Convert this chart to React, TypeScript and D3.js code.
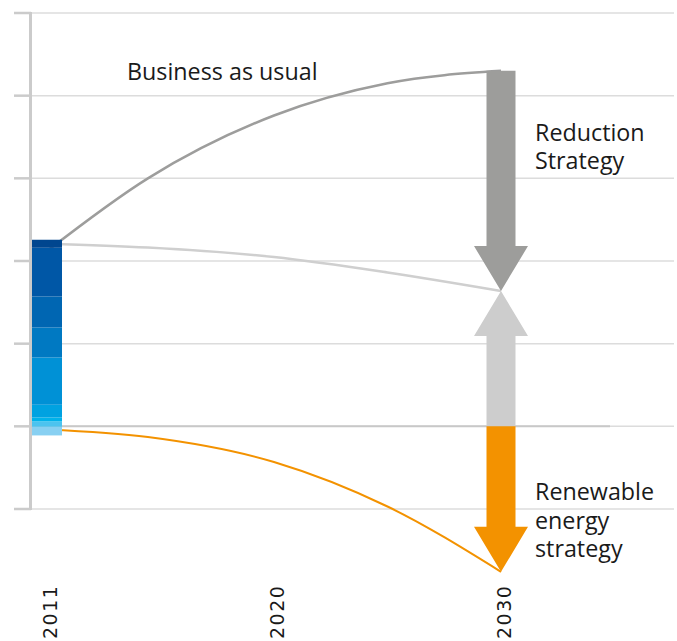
import React from 'react';
import * as d3 from 'd3';

const W = 677;
const H = 641;

// axis categories / ticks
const yearLabels = [2011, 2020, 2030];
const yTicks = [0, 1, 2, 3, 4, 5, 6];

// 2011 stacked bar (bottom to top)
const barBase = 0.89;
const barSegments = [0.105, 0.064, 0.048, 0.154, 0.572, 0.363, 0.375, 0.589, 0.097];
const barColors = ['#88d0f2', '#4cc3ef', '#00b2ea', '#00a2e1', '#0091d6', '#0079c2', '#0066b2', '#0057a6', '#00468f'];

// scenario paths
const curveYears = [2011, 2015, 2020, 2025, 2030];
const businessAsUsual = [3.12, 4.0, 4.76, 5.15, 5.3];
const reductionPath = [3.21, 3.163, 3.048, 2.861, 2.637];
const renewablePath = [0.962, 0.871, 0.569, 0.03, -0.76];
const renewableBase = 1.0;

const FONT = "'Open Sans', 'Noto Sans', sans-serif";

function arrowPath(cx: number, y0: number, y1: number) {
  const dir = y1 > y0 ? 1 : -1;
  const sw = 14.5;
  const hw = 27;
  const hl = 45;
  const yb = y1 - dir * hl;
  return `M${cx - sw},${y0} L${cx + sw},${y0} L${cx + sw},${yb} L${cx + hw},${yb} L${cx},${y1} L${cx - hw},${yb} L${cx - sw},${yb} Z`;
}

export default function App() {
  const x = d3.scaleLinear().domain([2011, 2020, 2030]).range([47, 274, 501]);
  const y = d3.scaleLinear().domain([0, 6]).range([509, 13]);

  const line = (vals: number[]) =>
    d3
      .line<number>()
      .x((_, i) => x(curveYears[i]))
      .y((v) => y(v))
      .curve(d3.curveMonotoneX)(vals) as string;

  let acc = barBase;
  const bars = barSegments.map((v, i) => {
    const y0 = acc;
    acc += v;
    return { y0, y1: acc, color: barColors[i] };
  });

  const ax = x(2030);
  const bauEnd = businessAsUsual[businessAsUsual.length - 1];
  const redEnd = reductionPath[reductionPath.length - 1];
  const renEnd = renewablePath[renewablePath.length - 1];

  return (
    <svg width={W} height={H} style={{ position: 'absolute', left: 0, top: 0, background: '#fff' }}>
      {/* gridlines */}
      {yTicks.map((t) => (
        <line key={'g' + t} x1={31} x2={674} y1={y(t)} y2={y(t)} stroke="#dcdcdc" strokeWidth={1.5} />
      ))}
      {/* axis */}
      <line x1={30.5} x2={30.5} y1={y(6) - 1} y2={y(0) + 1} stroke="#cbcbcb" strokeWidth={3} />
      {yTicks.map((t) => (
        <line key={'t' + t} x1={14} x2={31} y1={y(t)} y2={y(t)} stroke="#cbcbcb" strokeWidth={2.5} />
      ))}
      {/* base line at today's level */}
      <line x1={31} x2={610} y1={y(renewableBase)} y2={y(renewableBase)} stroke="#c8c8c8" strokeWidth={2} />

      {/* curves */}
      <path d={line(businessAsUsual)} fill="none" stroke="#9d9d9c" strokeWidth={2.5} />
      <path d={line(reductionPath)} fill="none" stroke="#cfcfcf" strokeWidth={2.5} />
      <path d={line(renewablePath)} fill="none" stroke="#f39200" strokeWidth={2} />

      {/* stacked bar */}
      {bars.map((b, i) => (
        <rect key={'b' + i} x={x(2011) - 15} width={30} y={y(b.y1)} height={y(b.y0) - y(b.y1)} fill={b.color} />
      ))}

      {/* arrows */}
      <path d={arrowPath(ax, y(bauEnd), y(redEnd))} fill="#9d9d9b" />
      <path d={arrowPath(ax, y(renewableBase), y(redEnd))} fill="#cdcdcd" />
      <path d={arrowPath(ax, y(renewableBase), y(renEnd))} fill="#f39200" />

      {/* labels */}
      <g fontFamily={FONT} fontSize={23.3} fill="#1a1a1a">
        <text x={127} y={80}>Business as usual</text>
        <text x={535} y={141}>Reduction</text>
        <text x={535} y={169}>Strategy</text>
        <text x={535} y={500}>Renewable</text>
        <text x={535} y={529}>energy</text>
        <text x={535} y={557}>strategy</text>
      </g>

      {/* x labels */}
      {yearLabels.map((yr) => (
        <text
          key={'x' + yr}
          transform={`translate(${x(yr) + 10},639) rotate(-90)`}
          fontFamily="'DejaVu Sans', sans-serif"
          fontSize={19}
          letterSpacing={1.5}
          fill="#1a1a1a"
        >
          {yr}
        </text>
      ))}
    </svg>
  );
}
